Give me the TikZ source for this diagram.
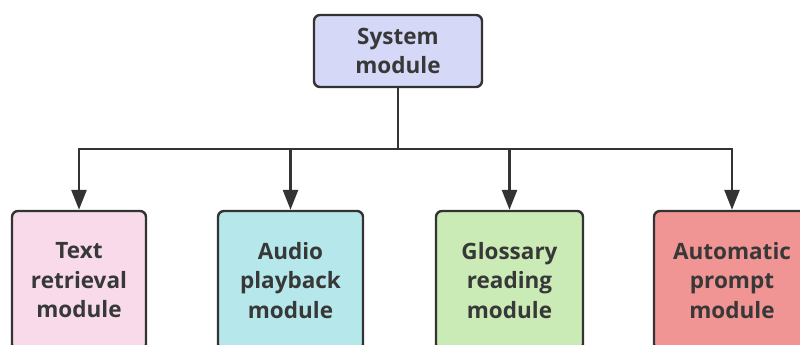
\documentclass[tikz,border=0pt]{standalone}
\usepackage{fontspec}
\setmainfont{Open Sans}
\usetikzlibrary{arrows.meta}
\definecolor{linec}{HTML}{333333}
\definecolor{textc}{HTML}{383838}
\definecolor{sysfill}{HTML}{D5D9F7}
\definecolor{pinkfill}{HTML}{F8DAEA}
\definecolor{cyanfill}{HTML}{B6E8EB}
\definecolor{greenfill}{HTML}{CBEBB6}
\definecolor{redfill}{HTML}{F19494}
\tikzset{
  modbox/.style={draw=linec, line width=2.4pt, rounded corners=6pt, align=center,
    text=textc, font=\fontsize{22.5}{29.5}\selectfont\bfseries, inner sep=0pt},
  conn/.style={draw=linec, line width=2.6pt},
  arr/.style={conn, -{Triangle[length=20pt,width=15pt]}}
}
\begin{document}
\begin{tikzpicture}[x=1pt,y=-1pt]
\useasboundingbox (0,0) rectangle (800,345);
\clip (0,0) rectangle (800,345);
\fill[white] (0,0) rectangle (800,345);
\node[modbox, fill=sysfill, minimum width=168pt, minimum height=72pt] (sys) at (398,51) {System\\module};
\node[modbox, fill=pinkfill, minimum width=134pt, minimum height=139pt] (t1) at (79,280.5) {Text\\retrieval\\module};
\node[modbox, fill=cyanfill, minimum width=145pt, minimum height=139pt] (t2) at (290.5,280.5) {Audio\\playback\\module};
\node[modbox, fill=greenfill, minimum width=147pt, minimum height=139pt] (t3) at (509.5,280.5) {Glossary\\reading\\module};
\node[modbox, fill=redfill, minimum width=156pt, minimum height=139pt] (t4) at (732,280.5) {Automatic\\prompt\\module};
\coordinate (j) at (398,149);
\draw[conn] (sys.south) -- (j);
\draw[arr] (j) -| (t1.north);
\draw[arr] (j) -| (t2.north);
\draw[arr] (j) -| (t3.north);
\draw[arr] (j) -| (t4.north);
\end{tikzpicture}
\end{document}
